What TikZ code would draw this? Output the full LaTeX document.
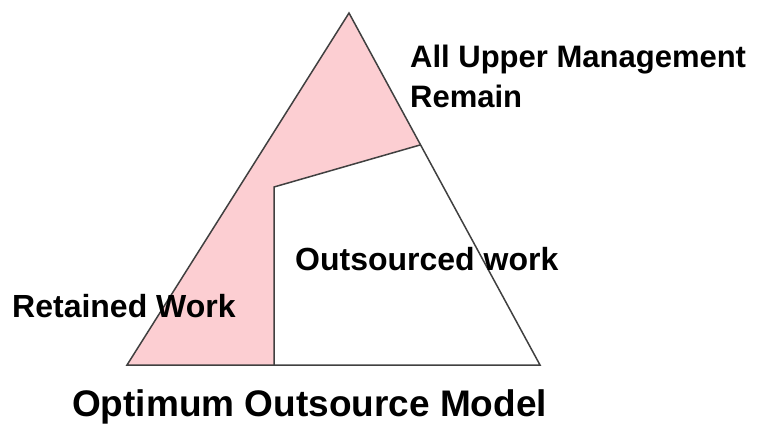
\documentclass[tikz,border=0pt]{standalone}
\usepackage{fontspec}
\setmainfont{Liberation Sans}
\begin{document}
\begin{tikzpicture}[x=1pt,y=-1pt,
  edge/.style={draw=black!75, line width=1.5pt, line join=miter},
  lbl/.style={inner sep=0pt, anchor=base west, font=\bfseries\fontsize{32}{40}\selectfont},
  ttl/.style={inner sep=0pt, anchor=base west, font=\bfseries\fontsize{37}{44}\selectfont}]
\definecolor{retpink}{RGB}{252,206,210}
\useasboundingbox (0,0) rectangle (763,426);
\coordinate (A) at (349,13);
\coordinate (L) at (127,365);
\coordinate (R) at (540,365);
\coordinate (J) at (420,145);
\coordinate (K) at (274,187);
\coordinate (B) at (274,365);
\fill[retpink] (A) -- (L) -- (B) -- (K) -- (J) -- cycle;
\draw[edge] (A) -- (L) -- (R) -- cycle;
\draw[edge] (B) -- (K) -- (J);
\node[lbl, align=left, font=\bfseries\fontsize{31}{40}\selectfont] (upper) at (410,107) {All Upper Management\\Remain};
\node[lbl] (out) at (295,270) {Outsourced work};
\node[lbl] (ret) at (12,317) {Retained Work};
\node[ttl] (title) at (72,416) {Optimum Outsource Model};
\end{tikzpicture}
\end{document}
